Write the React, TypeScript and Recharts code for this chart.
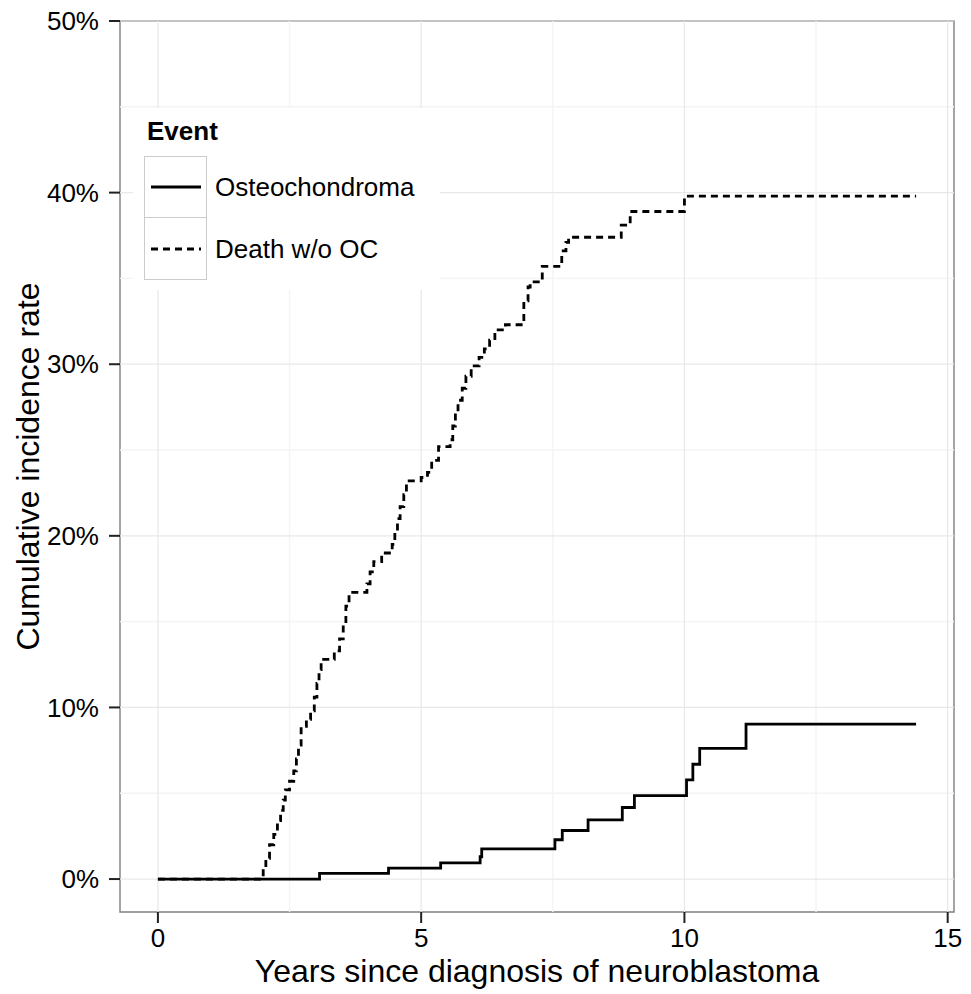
import {
  ComposedChart,
  Line,
  XAxis,
  YAxis,
  ReferenceLine,
  ReferenceArea,
  Legend,
} from "recharts";

// Cumulative incidence (%), step functions
const osteoTimes = [0, 3.07, 4.38, 5.37, 6.12, 6.15, 7.54, 7.68, 8.17, 8.82, 9.05, 10.04, 10.16, 10.29, 11.17, 14.4];
const osteoRates = [0, 0.33, 0.64, 0.94, 1.3, 1.76, 2.29, 2.83, 3.45, 4.17, 4.86, 5.78, 6.69, 7.62, 9.03, 9.03];

const deathTimes = [
  0, 2.0, 2.05, 2.12, 2.2, 2.27, 2.33, 2.38, 2.42, 2.5, 2.58, 2.63, 2.67, 2.72, 2.82, 2.9, 2.97,
  3.02, 3.06, 3.1, 3.35, 3.45, 3.52, 3.57, 3.63, 3.97, 4.03, 4.1, 4.25, 4.45, 4.5, 4.55, 4.6,
  4.67, 4.72, 5.0, 5.12, 5.2, 5.33, 5.55, 5.6, 5.65, 5.7, 5.78, 5.85, 5.95, 6.1, 6.2, 6.3, 6.4,
  6.6, 6.9, 6.95, 7.03, 7.07, 7.3, 7.67, 7.75, 7.8, 8.8, 8.97, 10.0, 14.4,
];
const deathRates = [
  0, 0.6, 1.2, 2.0, 2.6, 3.4, 4.0, 4.6, 5.2, 5.7, 6.3, 7.0, 7.8, 8.9, 9.3, 9.8, 10.6,
  11.4, 12.2, 12.8, 13.3, 14.0, 15.0, 15.9, 16.7, 17.2, 17.9, 18.5, 19.0, 19.5, 20.3, 21.0, 21.7,
  22.4, 23.2, 23.4, 23.7, 24.4, 25.2, 25.6, 26.4, 27.2, 27.9, 28.6, 29.3, 29.9, 30.4, 30.9, 31.4, 32.0,
  32.3, 32.6, 33.7, 34.5, 34.8, 35.7, 36.6, 37.1, 37.4, 38.1, 38.9, 39.8, 39.8,
];

const xTicks = [0, 5, 10, 15];
const xMinor = [2.5, 7.5, 12.5];
const yTicks = [0, 10, 20, 30, 40, 50];
const yMinor = [5, 15, 25, 35, 45];

const seriesNames = ["Osteochondroma", "Death w/o OC"];
const seriesDash = ["", "7 5"];

const X_DOMAIN: [number, number] = [-0.72, 15.12];
const Y_DOMAIN: [number, number] = [-1.92, 50];

const FONT = "'Liberation Sans', Arial, Helvetica, sans-serif";

const osteo = osteoTimes.map((t, i) => ({ t, v: osteoRates[i] }));
const death = deathTimes.map((t, i) => ({ t, v: deathRates[i] }));

function EventLegend() {
  return (
    <div
      style={{
        width: 307,
        height: 182,
        background: "#fff",
        position: "relative",
        fontFamily: FONT,
        color: "#000",
      }}
    >
      <div style={{ position: "absolute", left: 14, top: 10, fontSize: 26, lineHeight: "26px", fontWeight: "bold" }}>
        Event
      </div>
      {seriesNames.map((name, i) => (
        <div
          key={name}
          style={{ position: "absolute", left: 11, top: 48 + i * 62, height: 62, display: "flex", alignItems: "center" }}
        >
          <div
            style={{
              width: 63,
              height: 62,
              border: "1.5px solid #cccccc",
              borderTop: i > 0 ? "none" : "1.5px solid #cccccc",
              boxSizing: "border-box",
              display: "flex",
              alignItems: "center",
              justifyContent: "center",
            }}
          >
            <svg width={50} height={6}>
              <line x1={0} y1={3} x2={50} y2={3} stroke="#000" strokeWidth={2.8} strokeDasharray={seriesDash[i]} />
            </svg>
          </div>
          <span style={{ marginLeft: 8, fontSize: 26 }}>{name}</span>
        </div>
      ))}
    </div>
  );
}

export default function App() {
  return (
    <div style={{ position: "absolute", left: 0, top: 0, background: "#fff" }}>
      <ComposedChart width={971} height={994} margin={{ top: 21, right: 17, left: 0, bottom: 0 }}>
        <XAxis
          type="number"
          dataKey="t"
          domain={X_DOMAIN}
          ticks={xTicks}
          allowDataOverflow
          height={82}
          axisLine={false}
          tickSize={11}
          tickMargin={6}
          tickLine={{ stroke: "#222", strokeWidth: 2 }}
          tick={{ fill: "#000", fontSize: 26, fontFamily: FONT }}
          label={{
            value: "Years since diagnosis of neuroblastoma",
            position: "insideBottom",
            offset: 12,
            fill: "#000",
            fontSize: 32,
            fontFamily: FONT,
          }}
        />
        <YAxis
          type="number"
          domain={Y_DOMAIN}
          ticks={yTicks}
          allowDataOverflow
          width={120}
          axisLine={false}
          tickSize={11}
          tickMargin={10}
          tickLine={{ stroke: "#222", strokeWidth: 2 }}
          tick={{ fill: "#000", fontSize: 26, fontFamily: FONT }}
          tickFormatter={(v: number) => `${v}%`}
          label={{
            value: "Cumulative incidence rate",
            content: (props: any) => {
              const vb = props.viewBox || {};
              const cx = vb.x + 28;
              const cy = vb.y + vb.height / 2;
              return (
                <text
                  x={cx}
                  y={cy}
                  transform={`rotate(-90, ${cx}, ${cy})`}
                  textAnchor="middle"
                  dominantBaseline="central"
                  fill="#000"
                  fontSize={32}
                  fontFamily={FONT}
                >
                  Cumulative incidence rate
                </text>
              );
            },
          }}
        />
        {xMinor.map((x) => (
          <ReferenceLine key={`xm${x}`} x={x} stroke="#f4f4f4" strokeWidth={1.4} />
        ))}
        {yMinor.map((y) => (
          <ReferenceLine key={`ym${y}`} y={y} stroke="#f4f4f4" strokeWidth={1.4} />
        ))}
        {xTicks.map((x) => (
          <ReferenceLine key={`xM${x}`} x={x} stroke="#e8e8e8" strokeWidth={1.2} />
        ))}
        {yTicks.map((y) => (
          <ReferenceLine key={`yM${y}`} y={y} stroke="#e8e8e8" strokeWidth={1.2} />
        ))}
        <Legend
          layout="horizontal"
          verticalAlign="middle"
          align="center"
          wrapperStyle={{ left: 133, top: 108, width: 307, height: 182 }}
          content={() => <EventLegend />}
        />
        <Line
          data={death}
          dataKey="v"
          name={seriesNames[1]}
          type="stepAfter"
          stroke="#000"
          strokeWidth={2.8}
          strokeDasharray={seriesDash[1]}
          dot={false}
          activeDot={false}
          isAnimationActive={false}
        />
        <Line
          data={osteo}
          dataKey="v"
          name={seriesNames[0]}
          type="stepAfter"
          stroke="#000"
          strokeWidth={2.8}
          dot={false}
          activeDot={false}
          isAnimationActive={false}
        />
        <ReferenceArea
          x1={X_DOMAIN[0]}
          x2={X_DOMAIN[1]}
          y1={Y_DOMAIN[0]}
          y2={Y_DOMAIN[1]}
          fill="none"
          stroke="#7f7f7f"
          strokeWidth={1.4}
        />
      </ComposedChart>
    </div>
  );
}
